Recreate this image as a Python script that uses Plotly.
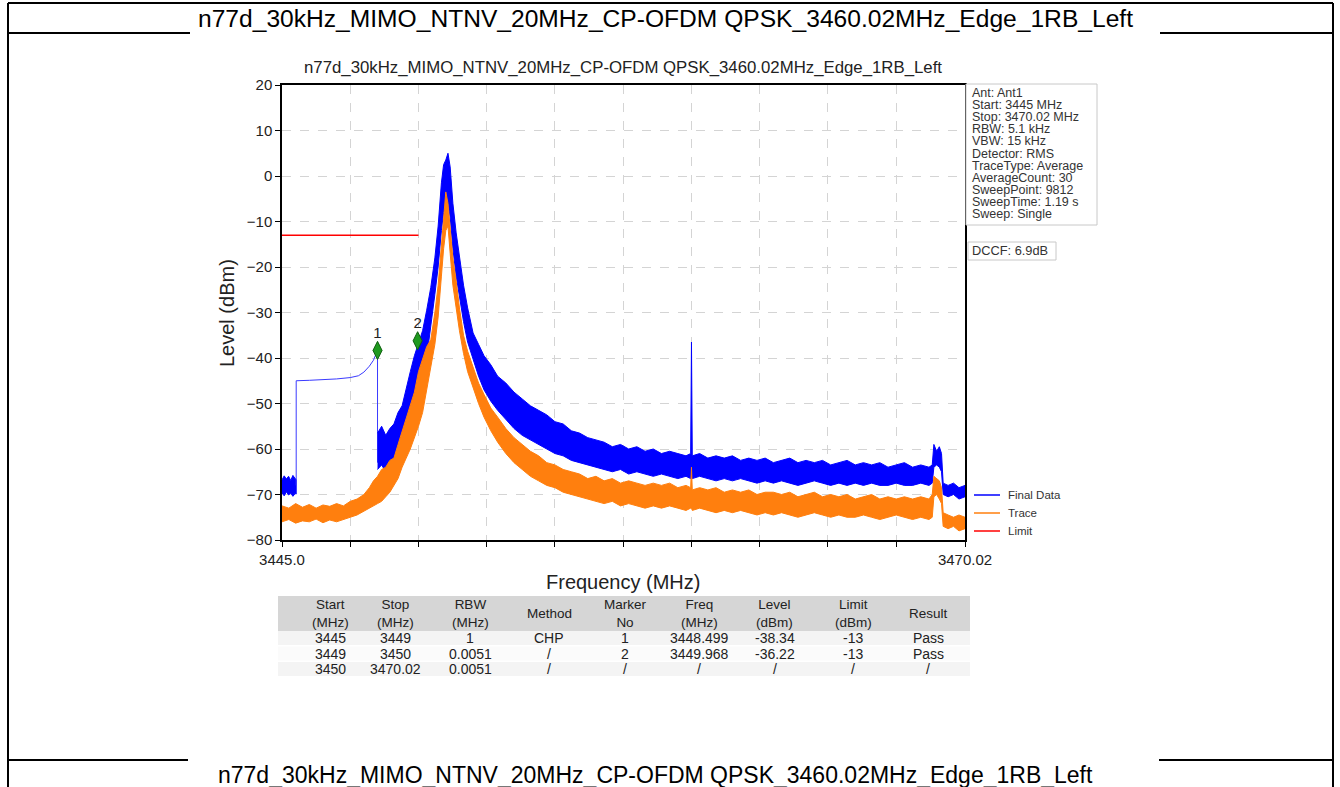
import plotly.graph_objects as go

W, H = 1340, 787

# ---------------- data ----------------
page_title = "n77d_30kHz_MIMO_NTNV_20MHz_CP-OFDM QPSK_3460.02MHz_Edge_1RB_Left"
plot_title = "n77d_30kHz_MIMO_NTNV_20MHz_CP-OFDM QPSK_3460.02MHz_Edge_1RB_Left"

y_ticks = [-80, -70, -60, -50, -40, -30, -20, -10, 0, 10, 20]
x_tick_vals = [3445.0, 3447.5, 3450.0, 3452.5, 3455.0, 3457.5, 3460.0, 3462.5, 3465.0, 3467.5, 3470.02]
x_tick_text = ["3445.0", "", "", "", "", "", "", "", "", "", "3470.02"]

# Final Data: noisy floor before the CHP segment
blue_edge_freq = [3445.0, 3445.08, 3445.16, 3445.24, 3445.32, 3445.40, 3445.48, 3445.52]
blue_edge_top = [-66.8, -65.9, -66.6, -66.0, -66.9, -65.8, -66.5, -66.7]
blue_edge_bot = [-69.6, -70.3, -69.4, -70.1, -69.7, -70.4, -69.8, -69.9]

# Final Data: smooth CHP segment (1 MHz RBW)
chp_freq = [3445.52, 3445.52, 3446.0, 3446.5, 3447.0, 3447.5, 3447.8, 3448.0, 3448.2, 3448.35, 3448.499, 3448.499]
chp_level = [-68.0, -45.0, -44.9, -44.8, -44.6, -44.3, -43.9, -43.1, -41.8, -40.5, -38.3, -63.0]

# shared frequency grid for the main part of the sweep
freq_grid = [
    3448.50, 3448.65, 3448.80, 3448.95, 3449.10, 3449.25, 3449.40, 3449.55, 3449.70, 3449.85,
    3450.00, 3450.15, 3450.30, 3450.45, 3450.60, 3450.72, 3450.84, 3450.92, 3451.00, 3451.08,
    3451.16, 3451.26, 3451.38, 3451.50, 3451.65, 3451.80, 3452.00, 3452.20, 3452.40, 3452.65,
    3452.90, 3453.20, 3453.50, 3453.80, 3454.10, 3454.40, 3454.70, 3455.00, 3455.30, 3455.60,
    3455.90, 3456.20, 3456.50, 3456.80, 3457.10, 3457.40, 3457.70, 3458.00, 3458.30, 3458.60,
    3458.90, 3459.20, 3459.50, 3459.80, 3459.97, 3460.00, 3460.03, 3460.30, 3460.60, 3460.90,
    3461.20, 3461.50, 3461.80, 3462.10, 3462.40, 3462.70, 3463.00, 3463.30, 3463.60, 3463.90,
    3464.20, 3464.50, 3464.80, 3465.10, 3465.40, 3465.70, 3466.00, 3466.30, 3466.60, 3466.90,
    3467.20, 3467.50, 3467.80, 3468.10, 3468.40, 3468.70, 3468.82, 3468.88, 3468.98, 3469.08,
    3469.16, 3469.22, 3469.40, 3469.60, 3469.80, 3470.02,
]

blue_top = [
    -56.5, -55.0, -57.0, -55.5, -54.5, -52.0, -50.5, -46.5, -43.0, -39.5,
    -36.5, -34.0, -29.5, -24.5, -18.0, -11.0, -1.5, 2.5, 3.5, 5.0,
    2.0, -6.0, -12.5, -17.5, -24.0, -29.0, -34.5, -37.0, -39.5, -41.5,
    -44.0, -45.5, -47.5, -49.0, -50.5, -51.5, -52.5, -54.0, -54.5, -56.0,
    -56.5, -57.5, -58.0, -58.5, -59.5, -59.0, -60.0, -59.5, -60.5, -60.0,
    -61.0, -60.5, -61.0, -61.5, -61.0, -36.5, -61.5, -61.0, -62.0, -61.5,
    -62.0, -61.5, -62.5, -62.0, -62.5, -62.0, -63.0, -62.5, -62.0, -63.0,
    -62.5, -63.0, -62.5, -63.5, -63.0, -62.5, -63.5, -63.0, -63.5, -63.0,
    -64.0, -63.5, -63.0, -64.0, -63.5, -64.0, -63.5, -59.0, -60.5, -59.5,
    -61.0, -67.5, -68.0, -67.5, -68.5, -68.0,
]
blue_bot = [
    -64.5, -63.5, -65.0, -64.0, -63.5, -62.5, -61.0, -59.0, -56.0, -53.0,
    -48.5, -45.0, -40.0, -33.0, -26.0, -20.0, -12.0, -8.0, -7.0, -6.0,
    -9.0, -16.0, -22.0, -26.5, -32.0, -36.5, -40.5, -44.0, -47.0, -49.5,
    -51.5, -53.5, -55.5, -57.0, -58.0, -59.0, -60.0, -61.0, -61.5, -62.5,
    -63.0, -63.5, -64.0, -64.5, -65.0, -64.5, -65.5, -65.0, -65.5, -66.0,
    -65.5, -66.0, -66.5, -66.0, -66.5, -66.0, -66.5, -66.0, -66.5, -67.0,
    -66.5, -67.0, -66.5, -67.0, -67.5, -67.0, -67.5, -67.0, -67.5, -68.0,
    -67.5, -67.0, -67.5, -68.0, -67.5, -68.0, -67.5, -68.0, -67.5, -68.0,
    -68.0, -67.5, -68.0, -68.0, -67.5, -68.0, -67.5, -64.0, -63.5, -64.0,
    -65.0, -70.0, -70.5, -70.0, -71.0, -70.5,
]

# Trace (orange): left floor, then the same grid as above
orange_left_freq = [3445.0, 3445.25, 3445.5, 3445.75, 3446.0, 3446.25, 3446.5, 3446.75,
                    3447.0, 3447.25, 3447.5, 3447.75, 3448.0, 3448.2, 3448.35]
orange_left_top = [-72.5, -73.0, -72.0, -72.8, -72.2, -73.0, -72.3, -72.6,
                   -72.0, -72.5, -71.5, -71.0, -70.0, -68.5, -67.0]
orange_left_bot = [-76.0, -75.5, -76.3, -75.8, -76.0, -75.4, -76.2, -75.6,
                   -76.0, -75.5, -75.0, -74.5, -73.8, -73.0, -72.5]

orange_top = [
    -66.0, -64.5, -64.0, -62.5, -62.0, -59.0, -56.0, -53.5, -50.5, -47.5,
    -43.0, -40.0, -37.5, -36.0, -30.0, -24.0, -15.0, -8.0, -3.5, -6.0,
    -12.0, -18.0, -23.0, -29.0, -35.0, -38.5, -42.0, -45.5, -48.0, -51.0,
    -53.0, -55.5, -57.5, -59.0, -60.5, -61.5, -63.0, -63.5, -64.5, -65.0,
    -65.5, -66.5, -66.0, -67.0, -66.5, -67.5, -67.0, -67.5, -68.0, -67.5,
    -68.0, -67.5, -68.5, -68.0, -68.5, -64.0, -69.0, -68.5, -69.0, -68.5,
    -69.5, -69.0, -69.5, -69.0, -70.0, -69.5, -69.5, -70.0, -69.5, -70.5,
    -70.0, -69.5, -70.5, -70.0, -70.5, -70.0, -71.0, -70.5, -70.0, -71.0,
    -70.5, -71.0, -70.5, -71.0, -70.5, -71.0, -70.0, -66.0, -66.5, -67.0,
    -68.5, -74.0, -74.5, -75.0, -74.5, -75.0,
]
orange_bot = [
    -72.0, -71.5, -70.5, -69.5, -68.0, -66.5, -64.0, -62.0, -60.0, -57.5,
    -55.0, -52.0, -47.5, -42.0, -37.0, -31.0, -22.0, -16.0, -12.0, -11.0,
    -17.0, -24.0, -29.0, -34.0, -39.0, -43.0, -46.5, -50.0, -53.0, -56.0,
    -58.5, -61.0, -63.0, -64.5, -66.0, -67.0, -68.0, -68.5, -69.5, -70.0,
    -70.5, -71.0, -71.5, -72.0, -71.5, -72.5, -72.0, -72.5, -73.0, -72.5,
    -73.0, -72.5, -73.0, -73.5, -73.0, -73.0, -73.5, -73.0, -73.5, -74.0,
    -73.5, -74.0, -73.5, -74.0, -74.5, -74.0, -74.5, -74.0, -74.5, -75.0,
    -74.5, -74.0, -74.5, -75.0, -74.5, -75.0, -75.0, -74.5, -75.0, -75.5,
    -75.0, -74.5, -75.0, -75.5, -75.0, -75.5, -75.0, -70.5, -70.0, -71.0,
    -72.0, -77.0, -77.5, -77.0, -78.0, -77.5,
]

limit_freq = [3445.0, 3450.0]
limit_level = [-13.0, -13.0]

marker_freq = [3448.499, 3449.968]
marker_level = [-38.34, -36.22]
marker_no = ["1", "2"]

info_lines = ["Ant: Ant1", "Start: 3445 MHz", "Stop: 3470.02 MHz", "RBW: 5.1 kHz", "VBW: 15 kHz",
              "Detector: RMS", "TraceType: Average", "AverageCount: 30", "SweepPoint: 9812",
              "SweepTime: 1.19 s", "Sweep: Single"]
dccf_text = "DCCF: 6.9dB"

legend_names = ["Final Data", "Trace", "Limit"]
legend_colors = ["#0000ff", "#ff7f0e", "#ff0000"]

table_header = ["Start<br>(MHz)", "Stop<br>(MHz)", "RBW<br>(MHz)", "Method", "Marker<br>No",
                "Freq<br>(MHz)", "Level<br>(dBm)", "Limit<br>(dBm)", "Result"]
table_rows = [
    ["3445", "3449", "1", "CHP", "1", "3448.499", "-38.34", "-13", "Pass"],
    ["3449", "3450", "0.0051", "/", "2", "3449.968", "-36.22", "-13", "Pass"],
    ["3450", "3470.02", "0.0051", "/", "/", "/", "/", "/", "/"],
]

FONT = "Liberation Sans, Arial, sans-serif"


def px(x):
    return x / W


def py(y):
    return 1 - y / H


fig = go.Figure()

# Final Data
fig.add_trace(go.Scatter(
    x=blue_edge_freq + blue_edge_freq[::-1], y=blue_edge_top + blue_edge_bot[::-1],
    fill="toself", fillcolor="#0000ff", mode="lines", line=dict(color="#0000ff", width=1),
    showlegend=False, hoverinfo="skip"))
fig.add_trace(go.Scatter(
    x=chp_freq, y=chp_level, mode="lines", line=dict(color="#3a3aff", width=1),
    name="Final Data", showlegend=False))
fig.add_trace(go.Scatter(
    x=freq_grid + freq_grid[::-1], y=blue_top + blue_bot[::-1],
    fill="toself", fillcolor="#0000ff", mode="lines", line=dict(color="#0000ff", width=1),
    showlegend=False, hoverinfo="skip"))

# Trace
o_freq = orange_left_freq + freq_grid
o_top = orange_left_top + orange_top
o_bot = orange_left_bot + orange_bot
fig.add_trace(go.Scatter(
    x=o_freq + o_freq[::-1], y=o_top + o_bot[::-1],
    fill="toself", fillcolor="#ff7f0e", mode="lines", line=dict(color="#ff7f0e", width=1),
    name="Trace", showlegend=False, hoverinfo="skip"))

# Limit
fig.add_trace(go.Scatter(
    x=limit_freq, y=limit_level, mode="lines", line=dict(color="#ff0000", width=1.5),
    name="Limit", showlegend=False))

# markers
fig.add_trace(go.Scatter(
    x=marker_freq, y=marker_level, mode="markers+text", text=marker_no,
    textposition="top center", textfont=dict(size=15, color="#222222", family=FONT),
    marker=dict(symbol="diamond-tall", size=13, color="#1f9a1f", line=dict(color="#106010", width=1)),
    showlegend=False))

fig.update_xaxes(
    domain=[px(282), px(965)], range=[3445.0, 3470.02], automargin=False,
    tickvals=x_tick_vals, ticktext=x_tick_text, ticks="outside", ticklen=5, tickcolor="black",
    tickfont=dict(size=15, color="#222222", family=FONT),
    showgrid=True, gridcolor="#d4d4d4", griddash="dash", gridwidth=1,
    showline=True, linecolor="black", linewidth=1.5, mirror=True, zeroline=False)
fig.update_yaxes(
    domain=[py(540), py(85)], range=[-80, 20], automargin=False,
    tickvals=y_ticks, ticks="outside", ticklen=5, tickcolor="black",
    tickfont=dict(size=15, color="#222222", family=FONT),
    showgrid=True, gridcolor="#d4d4d4", griddash="dash", gridwidth=1,
    showline=True, linecolor="black", linewidth=1.5, mirror=True, zeroline=False)

shapes = []
ann = []


def hline(x0, x1, y, w=2):
    shapes.append(dict(type="line", xref="paper", yref="paper", x0=px(x0), x1=px(x1),
                       y0=py(y), y1=py(y), line=dict(color="black", width=w)))


def vline(x, y0, y1, w=2):
    shapes.append(dict(type="line", xref="paper", yref="paper", x0=px(x), x1=px(x),
                       y0=py(y0), y1=py(y1), line=dict(color="black", width=w)))


def label(text, x, y, size, color="#222222", xanchor="center", angle=0):
    ann.append(dict(text=text, x=px(x), y=py(y), xref="paper", yref="paper",
                    xanchor=xanchor, yanchor="middle", showarrow=False, textangle=angle,
                    font=dict(size=size, color=color, family=FONT)))


# page frame (document table lines)
hline(8, 1333, 3)
hline(8, 190, 33)
hline(1160, 1333, 33)
hline(8, 188, 760)
hline(1159, 1333, 760)
vline(8, 3, 787)
vline(1333, 3, 787)

label(page_title, 665, 18, 24.6, color="black")
label(page_title, 655, 775, 23, color="black")

# plot title and axis labels
label(plot_title, 623, 68, 16.8)
label("Frequency (MHz)", 623, 582, 20)
label("Level (dBm)", 227, 313, 20, angle=-90)

# info box
shapes.append(dict(type="rect", xref="paper", yref="paper", x0=px(966), x1=px(1097),
                   y0=py(225), y1=py(84), line=dict(color="#c8c8c8", width=1), fillcolor="white"))
for i, t in enumerate(info_lines):
    label(t, 970, 93 + 12.1 * i, 12.5, color="#333333", xanchor="left")
shapes.append(dict(type="rect", xref="paper", yref="paper", x0=px(968), x1=px(1056),
                   y0=py(260), y1=py(242), line=dict(color="#c8c8c8", width=1), fillcolor="white"))
label(dccf_text, 970, 251, 12.8, color="#333333", xanchor="left")

# legend
for i, (name, col) in enumerate(zip(legend_names, legend_colors)):
    yy = 495 + 18 * i
    shapes.append(dict(type="line", xref="paper", yref="paper", x0=px(974), x1=px(1000),
                       y0=py(yy), y1=py(yy), line=dict(color=col, width=1.5)))
    label(name, 1006, yy, 11.5, color="#333333", xanchor="left")

# result table
col_x = [330, 395, 470, 549, 625, 699, 775, 853, 928]
shapes.append(dict(type="rect", xref="paper", yref="paper", x0=px(278), x1=px(970),
                   y0=py(631), y1=py(596), line=dict(width=0), fillcolor="#d6d6d6", layer="below"))
for r in range(len(table_rows)):
    y0 = 630 + 15.5 * r
    shapes.append(dict(type="rect", xref="paper", yref="paper", x0=px(278), x1=px(970),
                       y0=py(y0 + 15), y1=py(y0 + 1), line=dict(width=0),
                       fillcolor="#f4f4f4" if r % 2 == 0 else "#fbfbfb", layer="below"))
for c, h in enumerate(table_header):
    label(h, col_x[c], 613, 13.5)
for r, row in enumerate(table_rows):
    for c, v in enumerate(row):
        label(v, col_x[c], 638 + 15.5 * r, 14)

fig.update_layout(
    width=W, height=H, autosize=False,
    margin=dict(l=0, r=0, t=0, b=0, pad=0),
    paper_bgcolor="white", plot_bgcolor="white",
    showlegend=False, shapes=shapes, annotations=ann,
    font=dict(family=FONT),
)

fig.write_html("out.html", config={"displayModeBar": False},
               post_script="document.body.style.margin='0';")
